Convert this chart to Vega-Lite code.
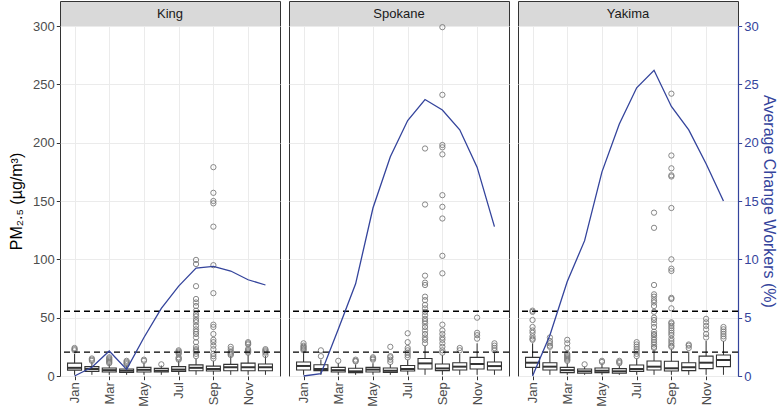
{
  "$schema": "https://vega.github.io/schema/vega-lite/v6.json",
  "padding": {"left": 8, "top": 0, "right": 0, "bottom": 0},
  "background": "white",
  "config": {"font": "Liberation Sans", "view": {"stroke": "#333333", "strokeWidth": 1}},
  "datasets": {
    "boxes": [
      {"county": "King", "month": 1, "lower": 1, "q1": 5, "median": 7, "q3": 11, "upper": 19},
      {"county": "King", "month": 2, "lower": 1, "q1": 4, "median": 6, "q3": 8, "upper": 12},
      {"county": "King", "month": 3, "lower": 1, "q1": 3.4, "median": 5, "q3": 6.9, "upper": 10},
      {"county": "King", "month": 4, "lower": 1, "q1": 3, "median": 4.5, "q3": 6, "upper": 9},
      {"county": "King", "month": 5, "lower": 1, "q1": 3.4, "median": 5.3, "q3": 7.4, "upper": 11},
      {"county": "King", "month": 6, "lower": 1, "q1": 3.4, "median": 4.5, "q3": 6.5, "upper": 9},
      {"county": "King", "month": 7, "lower": 1, "q1": 4, "median": 5.5, "q3": 8, "upper": 13},
      {"county": "King", "month": 8, "lower": 1, "q1": 4.5, "median": 7, "q3": 9.5, "upper": 15},
      {"county": "King", "month": 9, "lower": 1, "q1": 4.3, "median": 6, "q3": 8.5, "upper": 13},
      {"county": "King", "month": 10, "lower": 1, "q1": 4.5, "median": 7.5, "q3": 10, "upper": 17},
      {"county": "King", "month": 11, "lower": 1, "q1": 4.5, "median": 7.5, "q3": 11, "upper": 18},
      {"county": "King", "month": 12, "lower": 1, "q1": 4.5, "median": 7.5, "q3": 10.3, "upper": 17},
      {"county": "Spokane", "month": 1, "lower": 1, "q1": 5.1, "median": 8.6, "q3": 12, "upper": 20},
      {"county": "Spokane", "month": 2, "lower": 1, "q1": 4.6, "median": 6, "q3": 9.7, "upper": 14},
      {"county": "Spokane", "month": 3, "lower": 1, "q1": 3.4, "median": 5, "q3": 7.4, "upper": 11},
      {"county": "Spokane", "month": 4, "lower": 1, "q1": 2.9, "median": 4, "q3": 6.6, "upper": 10},
      {"county": "Spokane", "month": 5, "lower": 1, "q1": 3.4, "median": 5.5, "q3": 7.4, "upper": 11},
      {"county": "Spokane", "month": 6, "lower": 1, "q1": 3.1, "median": 4.5, "q3": 6.9, "upper": 10},
      {"county": "Spokane", "month": 7, "lower": 1, "q1": 4.3, "median": 6, "q3": 9, "upper": 14},
      {"county": "Spokane", "month": 8, "lower": 1, "q1": 6, "median": 10.8, "q3": 15, "upper": 26},
      {"county": "Spokane", "month": 9, "lower": 1, "q1": 4.6, "median": 6.5, "q3": 10.3, "upper": 18},
      {"county": "Spokane", "month": 10, "lower": 1, "q1": 5.1, "median": 8, "q3": 11.4, "upper": 19},
      {"county": "Spokane", "month": 11, "lower": 1, "q1": 6, "median": 10.3, "q3": 16, "upper": 28},
      {"county": "Spokane", "month": 12, "lower": 1, "q1": 5.1, "median": 8.5, "q3": 12, "upper": 20},
      {"county": "Yakima", "month": 1, "lower": 1, "q1": 7.4, "median": 11.4, "q3": 16, "upper": 28},
      {"county": "Yakima", "month": 2, "lower": 1, "q1": 5.1, "median": 8, "q3": 11.4, "upper": 22},
      {"county": "Yakima", "month": 3, "lower": 1, "q1": 2.9, "median": 5, "q3": 7.4, "upper": 11},
      {"county": "Yakima", "month": 4, "lower": 1, "q1": 2.3, "median": 4, "q3": 6, "upper": 8},
      {"county": "Yakima", "month": 5, "lower": 1, "q1": 2.9, "median": 4.5, "q3": 6.9, "upper": 10},
      {"county": "Yakima", "month": 6, "lower": 1, "q1": 2.3, "median": 4, "q3": 6.3, "upper": 9},
      {"county": "Yakima", "month": 7, "lower": 1, "q1": 4, "median": 6, "q3": 9.4, "upper": 15},
      {"county": "Yakima", "month": 8, "lower": 1, "q1": 5.1, "median": 8, "q3": 12.9, "upper": 22},
      {"county": "Yakima", "month": 9, "lower": 1, "q1": 4.3, "median": 6.6, "q3": 12.6, "upper": 23},
      {"county": "Yakima", "month": 10, "lower": 1, "q1": 4.6, "median": 7.5, "q3": 11.4, "upper": 21},
      {"county": "Yakima", "month": 11, "lower": 1, "q1": 6.3, "median": 11.4, "q3": 17, "upper": 30},
      {"county": "Yakima", "month": 12, "lower": 1, "q1": 8, "median": 13.7, "q3": 18, "upper": 30}
    ],
    "outliers": [
      {"county": "King", "month": 1, "pm25": 22}, {"county": "King", "month": 1, "pm25": 23}, {"county": "King", "month": 1, "pm25": 24},
      {"county": "King", "month": 2, "pm25": 13}, {"county": "King", "month": 2, "pm25": 14}, {"county": "King", "month": 2, "pm25": 15},
      {"county": "King", "month": 3, "pm25": 11}, {"county": "King", "month": 3, "pm25": 12}, {"county": "King", "month": 3, "pm25": 13}, {"county": "King", "month": 3, "pm25": 14}, {"county": "King", "month": 3, "pm25": 15}, {"county": "King", "month": 3, "pm25": 16},
      {"county": "King", "month": 4, "pm25": 10}, {"county": "King", "month": 4, "pm25": 11}, {"county": "King", "month": 4, "pm25": 12}, {"county": "King", "month": 4, "pm25": 13},
      {"county": "King", "month": 5, "pm25": 13}, {"county": "King", "month": 5, "pm25": 14},
      {"county": "King", "month": 6, "pm25": 10},
      {"county": "King", "month": 7, "pm25": 14}, {"county": "King", "month": 7, "pm25": 15}, {"county": "King", "month": 7, "pm25": 16}, {"county": "King", "month": 7, "pm25": 19}, {"county": "King", "month": 7, "pm25": 20}, {"county": "King", "month": 7, "pm25": 21}, {"county": "King", "month": 7, "pm25": 22},
      {"county": "King", "month": 8, "pm25": 17}, {"county": "King", "month": 8, "pm25": 19}, {"county": "King", "month": 8, "pm25": 21}, {"county": "King", "month": 8, "pm25": 22}, {"county": "King", "month": 8, "pm25": 23}, {"county": "King", "month": 8, "pm25": 25}, {"county": "King", "month": 8, "pm25": 29}, {"county": "King", "month": 8, "pm25": 33}, {"county": "King", "month": 8, "pm25": 36}, {"county": "King", "month": 8, "pm25": 38}, {"county": "King", "month": 8, "pm25": 40}, {"county": "King", "month": 8, "pm25": 43}, {"county": "King", "month": 8, "pm25": 46}, {"county": "King", "month": 8, "pm25": 48}, {"county": "King", "month": 8, "pm25": 51}, {"county": "King", "month": 8, "pm25": 53}, {"county": "King", "month": 8, "pm25": 56}, {"county": "King", "month": 8, "pm25": 60}, {"county": "King", "month": 8, "pm25": 63}, {"county": "King", "month": 8, "pm25": 66}, {"county": "King", "month": 8, "pm25": 77}, {"county": "King", "month": 8, "pm25": 96}, {"county": "King", "month": 8, "pm25": 99.5},
      {"county": "King", "month": 9, "pm25": 15}, {"county": "King", "month": 9, "pm25": 17}, {"county": "King", "month": 9, "pm25": 19}, {"county": "King", "month": 9, "pm25": 23}, {"county": "King", "month": 9, "pm25": 26}, {"county": "King", "month": 9, "pm25": 29}, {"county": "King", "month": 9, "pm25": 31}, {"county": "King", "month": 9, "pm25": 36}, {"county": "King", "month": 9, "pm25": 42}, {"county": "King", "month": 9, "pm25": 44}, {"county": "King", "month": 9, "pm25": 71}, {"county": "King", "month": 9, "pm25": 95}, {"county": "King", "month": 9, "pm25": 128}, {"county": "King", "month": 9, "pm25": 148}, {"county": "King", "month": 9, "pm25": 150}, {"county": "King", "month": 9, "pm25": 157}, {"county": "King", "month": 9, "pm25": 179},
      {"county": "King", "month": 10, "pm25": 18}, {"county": "King", "month": 10, "pm25": 19}, {"county": "King", "month": 10, "pm25": 20}, {"county": "King", "month": 10, "pm25": 21}, {"county": "King", "month": 10, "pm25": 23}, {"county": "King", "month": 10, "pm25": 25},
      {"county": "King", "month": 11, "pm25": 20}, {"county": "King", "month": 11, "pm25": 21}, {"county": "King", "month": 11, "pm25": 22}, {"county": "King", "month": 11, "pm25": 23}, {"county": "King", "month": 11, "pm25": 27}, {"county": "King", "month": 11, "pm25": 28}, {"county": "King", "month": 11, "pm25": 29},
      {"county": "King", "month": 12, "pm25": 18}, {"county": "King", "month": 12, "pm25": 20}, {"county": "King", "month": 12, "pm25": 21}, {"county": "King", "month": 12, "pm25": 22}, {"county": "King", "month": 12, "pm25": 23},
      {"county": "Spokane", "month": 1, "pm25": 22}, {"county": "Spokane", "month": 1, "pm25": 23}, {"county": "Spokane", "month": 1, "pm25": 24}, {"county": "Spokane", "month": 1, "pm25": 25}, {"county": "Spokane", "month": 1, "pm25": 26}, {"county": "Spokane", "month": 1, "pm25": 28},
      {"county": "Spokane", "month": 2, "pm25": 17}, {"county": "Spokane", "month": 2, "pm25": 22},
      {"county": "Spokane", "month": 3, "pm25": 13},
      {"county": "Spokane", "month": 4, "pm25": 12.5}, {"county": "Spokane", "month": 4, "pm25": 13}, {"county": "Spokane", "month": 4, "pm25": 14},
      {"county": "Spokane", "month": 5, "pm25": 14}, {"county": "Spokane", "month": 5, "pm25": 15}, {"county": "Spokane", "month": 5, "pm25": 16},
      {"county": "Spokane", "month": 6, "pm25": 12}, {"county": "Spokane", "month": 6, "pm25": 14}, {"county": "Spokane", "month": 6, "pm25": 16}, {"county": "Spokane", "month": 6, "pm25": 17}, {"county": "Spokane", "month": 6, "pm25": 25},
      {"county": "Spokane", "month": 7, "pm25": 16}, {"county": "Spokane", "month": 7, "pm25": 18}, {"county": "Spokane", "month": 7, "pm25": 20}, {"county": "Spokane", "month": 7, "pm25": 22}, {"county": "Spokane", "month": 7, "pm25": 24}, {"county": "Spokane", "month": 7, "pm25": 29}, {"county": "Spokane", "month": 7, "pm25": 36.6},
      {"county": "Spokane", "month": 8, "pm25": 28}, {"county": "Spokane", "month": 8, "pm25": 31}, {"county": "Spokane", "month": 8, "pm25": 33}, {"county": "Spokane", "month": 8, "pm25": 36}, {"county": "Spokane", "month": 8, "pm25": 39}, {"county": "Spokane", "month": 8, "pm25": 42}, {"county": "Spokane", "month": 8, "pm25": 45}, {"county": "Spokane", "month": 8, "pm25": 47}, {"county": "Spokane", "month": 8, "pm25": 49}, {"county": "Spokane", "month": 8, "pm25": 52}, {"county": "Spokane", "month": 8, "pm25": 55}, {"county": "Spokane", "month": 8, "pm25": 58}, {"county": "Spokane", "month": 8, "pm25": 61}, {"county": "Spokane", "month": 8, "pm25": 65}, {"county": "Spokane", "month": 8, "pm25": 68}, {"county": "Spokane", "month": 8, "pm25": 78}, {"county": "Spokane", "month": 8, "pm25": 80}, {"county": "Spokane", "month": 8, "pm25": 86}, {"county": "Spokane", "month": 8, "pm25": 147}, {"county": "Spokane", "month": 8, "pm25": 195},
      {"county": "Spokane", "month": 9, "pm25": 20}, {"county": "Spokane", "month": 9, "pm25": 22}, {"county": "Spokane", "month": 9, "pm25": 25}, {"county": "Spokane", "month": 9, "pm25": 28}, {"county": "Spokane", "month": 9, "pm25": 31}, {"county": "Spokane", "month": 9, "pm25": 33}, {"county": "Spokane", "month": 9, "pm25": 36}, {"county": "Spokane", "month": 9, "pm25": 39}, {"county": "Spokane", "month": 9, "pm25": 44}, {"county": "Spokane", "month": 9, "pm25": 88}, {"county": "Spokane", "month": 9, "pm25": 103}, {"county": "Spokane", "month": 9, "pm25": 135}, {"county": "Spokane", "month": 9, "pm25": 145}, {"county": "Spokane", "month": 9, "pm25": 155}, {"county": "Spokane", "month": 9, "pm25": 190}, {"county": "Spokane", "month": 9, "pm25": 196}, {"county": "Spokane", "month": 9, "pm25": 198}, {"county": "Spokane", "month": 9, "pm25": 241}, {"county": "Spokane", "month": 9, "pm25": 299},
      {"county": "Spokane", "month": 10, "pm25": 22}, {"county": "Spokane", "month": 10, "pm25": 24},
      {"county": "Spokane", "month": 11, "pm25": 32}, {"county": "Spokane", "month": 11, "pm25": 35}, {"county": "Spokane", "month": 11, "pm25": 37}, {"county": "Spokane", "month": 11, "pm25": 50},
      {"county": "Spokane", "month": 12, "pm25": 22}, {"county": "Spokane", "month": 12, "pm25": 24}, {"county": "Spokane", "month": 12, "pm25": 26}, {"county": "Spokane", "month": 12, "pm25": 28},
      {"county": "Yakima", "month": 1, "pm25": 31}, {"county": "Yakima", "month": 1, "pm25": 32}, {"county": "Yakima", "month": 1, "pm25": 34}, {"county": "Yakima", "month": 1, "pm25": 37}, {"county": "Yakima", "month": 1, "pm25": 39}, {"county": "Yakima", "month": 1, "pm25": 42}, {"county": "Yakima", "month": 1, "pm25": 48}, {"county": "Yakima", "month": 1, "pm25": 55}, {"county": "Yakima", "month": 1, "pm25": 56},
      {"county": "Yakima", "month": 2, "pm25": 25}, {"county": "Yakima", "month": 2, "pm25": 26}, {"county": "Yakima", "month": 2, "pm25": 28}, {"county": "Yakima", "month": 2, "pm25": 30}, {"county": "Yakima", "month": 2, "pm25": 33},
      {"county": "Yakima", "month": 3, "pm25": 13}, {"county": "Yakima", "month": 3, "pm25": 14}, {"county": "Yakima", "month": 3, "pm25": 15}, {"county": "Yakima", "month": 3, "pm25": 16}, {"county": "Yakima", "month": 3, "pm25": 17}, {"county": "Yakima", "month": 3, "pm25": 18}, {"county": "Yakima", "month": 3, "pm25": 19}, {"county": "Yakima", "month": 3, "pm25": 24}, {"county": "Yakima", "month": 3, "pm25": 28}, {"county": "Yakima", "month": 3, "pm25": 31},
      {"county": "Yakima", "month": 4, "pm25": 10},
      {"county": "Yakima", "month": 5, "pm25": 12}, {"county": "Yakima", "month": 5, "pm25": 13},
      {"county": "Yakima", "month": 6, "pm25": 11}, {"county": "Yakima", "month": 6, "pm25": 12}, {"county": "Yakima", "month": 6, "pm25": 13},
      {"county": "Yakima", "month": 7, "pm25": 17}, {"county": "Yakima", "month": 7, "pm25": 19}, {"county": "Yakima", "month": 7, "pm25": 21}, {"county": "Yakima", "month": 7, "pm25": 23}, {"county": "Yakima", "month": 7, "pm25": 25}, {"county": "Yakima", "month": 7, "pm25": 27}, {"county": "Yakima", "month": 7, "pm25": 29},
      {"county": "Yakima", "month": 8, "pm25": 24}, {"county": "Yakima", "month": 8, "pm25": 25}, {"county": "Yakima", "month": 8, "pm25": 27}, {"county": "Yakima", "month": 8, "pm25": 29}, {"county": "Yakima", "month": 8, "pm25": 31}, {"county": "Yakima", "month": 8, "pm25": 33}, {"county": "Yakima", "month": 8, "pm25": 35}, {"county": "Yakima", "month": 8, "pm25": 36}, {"county": "Yakima", "month": 8, "pm25": 38}, {"county": "Yakima", "month": 8, "pm25": 42}, {"county": "Yakima", "month": 8, "pm25": 45}, {"county": "Yakima", "month": 8, "pm25": 48}, {"county": "Yakima", "month": 8, "pm25": 50}, {"county": "Yakima", "month": 8, "pm25": 55}, {"county": "Yakima", "month": 8, "pm25": 60}, {"county": "Yakima", "month": 8, "pm25": 63}, {"county": "Yakima", "month": 8, "pm25": 65}, {"county": "Yakima", "month": 8, "pm25": 68}, {"county": "Yakima", "month": 8, "pm25": 70}, {"county": "Yakima", "month": 8, "pm25": 78}, {"county": "Yakima", "month": 8, "pm25": 127}, {"county": "Yakima", "month": 8, "pm25": 140},
      {"county": "Yakima", "month": 9, "pm25": 25}, {"county": "Yakima", "month": 9, "pm25": 26}, {"county": "Yakima", "month": 9, "pm25": 28}, {"county": "Yakima", "month": 9, "pm25": 30}, {"county": "Yakima", "month": 9, "pm25": 32}, {"county": "Yakima", "month": 9, "pm25": 35}, {"county": "Yakima", "month": 9, "pm25": 37}, {"county": "Yakima", "month": 9, "pm25": 39}, {"county": "Yakima", "month": 9, "pm25": 41}, {"county": "Yakima", "month": 9, "pm25": 43}, {"county": "Yakima", "month": 9, "pm25": 45}, {"county": "Yakima", "month": 9, "pm25": 46}, {"county": "Yakima", "month": 9, "pm25": 58}, {"county": "Yakima", "month": 9, "pm25": 66}, {"county": "Yakima", "month": 9, "pm25": 67}, {"county": "Yakima", "month": 9, "pm25": 90}, {"county": "Yakima", "month": 9, "pm25": 92}, {"county": "Yakima", "month": 9, "pm25": 100}, {"county": "Yakima", "month": 9, "pm25": 144}, {"county": "Yakima", "month": 9, "pm25": 171}, {"county": "Yakima", "month": 9, "pm25": 172}, {"county": "Yakima", "month": 9, "pm25": 178}, {"county": "Yakima", "month": 9, "pm25": 189}, {"county": "Yakima", "month": 9, "pm25": 242},
      {"county": "Yakima", "month": 10, "pm25": 24}, {"county": "Yakima", "month": 10, "pm25": 26}, {"county": "Yakima", "month": 10, "pm25": 27},
      {"county": "Yakima", "month": 11, "pm25": 33}, {"county": "Yakima", "month": 11, "pm25": 36}, {"county": "Yakima", "month": 11, "pm25": 40}, {"county": "Yakima", "month": 11, "pm25": 43}, {"county": "Yakima", "month": 11, "pm25": 46}, {"county": "Yakima", "month": 11, "pm25": 49},
      {"county": "Yakima", "month": 12, "pm25": 32}, {"county": "Yakima", "month": 12, "pm25": 34}, {"county": "Yakima", "month": 12, "pm25": 36}, {"county": "Yakima", "month": 12, "pm25": 38}, {"county": "Yakima", "month": 12, "pm25": 40}, {"county": "Yakima", "month": 12, "pm25": 42}
    ],
    "workers": [
      {"county": "King", "month": 1, "pct": 0}, {"county": "King", "month": 2, "pct": 0.75}, {"county": "King", "month": 3, "pct": 2.14}, {"county": "King", "month": 4, "pct": 0.57}, {"county": "King", "month": 5, "pct": 3.3}, {"county": "King", "month": 6, "pct": 5.8}, {"county": "King", "month": 7, "pct": 7.7}, {"county": "King", "month": 8, "pct": 9.25}, {"county": "King", "month": 9, "pct": 9.4}, {"county": "King", "month": 10, "pct": 9.0}, {"county": "King", "month": 11, "pct": 8.25}, {"county": "King", "month": 12, "pct": 7.8},
      {"county": "Spokane", "month": 1, "pct": 0}, {"county": "Spokane", "month": 2, "pct": 0.2}, {"county": "Spokane", "month": 3, "pct": 4.0}, {"county": "Spokane", "month": 4, "pct": 7.9}, {"county": "Spokane", "month": 5, "pct": 14.4}, {"county": "Spokane", "month": 6, "pct": 18.8}, {"county": "Spokane", "month": 7, "pct": 21.9}, {"county": "Spokane", "month": 8, "pct": 23.7}, {"county": "Spokane", "month": 9, "pct": 22.8}, {"county": "Spokane", "month": 10, "pct": 21.1}, {"county": "Spokane", "month": 11, "pct": 17.9}, {"county": "Spokane", "month": 12, "pct": 12.8},
      {"county": "Yakima", "month": 1, "pct": 0}, {"county": "Yakima", "month": 2, "pct": 3.5}, {"county": "Yakima", "month": 3, "pct": 8.1}, {"county": "Yakima", "month": 4, "pct": 11.6}, {"county": "Yakima", "month": 5, "pct": 17.5}, {"county": "Yakima", "month": 6, "pct": 21.6}, {"county": "Yakima", "month": 7, "pct": 24.7}, {"county": "Yakima", "month": 8, "pct": 26.2}, {"county": "Yakima", "month": 9, "pct": 23.1}, {"county": "Yakima", "month": 10, "pct": 21.1}, {"county": "Yakima", "month": 11, "pct": 18.2}, {"county": "Yakima", "month": 12, "pct": 15.0}
    ],
    "thresholds": [{"value": 20.5}, {"value": 55.5}]
  },
  "spacing": 5,
  "hconcat": [
    {
      "spacing": 0, "bounds": "flush",
      "vconcat": [
        {"data": {"values": [{"county": "King"}]}, "width": 220, "height": 25,
         "view": {"fill": "#D9D9D9", "stroke": "#333333", "strokeWidth": 1},
         "mark": {"type": "text", "fontSize": 13, "color": "#1A1A1A"},
         "encoding": {"text": {"field": "county", "type": "nominal"}}},
        {"width": 220, "height": 350,
         "resolve": {"scale": {"y": "independent"}},
         "layer": [
          {"layer": [
            {"data": {"name": "boxes"}, "transform": [{"filter": "datum.county === 'King'"}],
             "mark": {"type": "rule", "color": "#333333", "strokeWidth": 1},
             "encoding": {
               "x": {"field": "month", "type": "quantitative", "scale": {"domain": [0.45, 12.55], "nice": false, "zero": false},
                     "axis": {"title": null, "values": [1,2,3,4,5,6,7,8,9,10,11,12], "labelExpr": "datum.value % 2 === 1 ? ['Jan','Feb','Mar','Apr','May','Jun','Jul','Aug','Sep','Oct','Nov','Dec'][datum.value - 1] : ''", "labelAngle": -90, "labelAlign": "right", "labelBaseline": "middle", "labelFontSize": 13, "labelColor": "#4D4D4D", "labelPadding": 2, "labelFlush": false, "labelOverlap": false, "tickColor": "#333333", "tickSize": 3.7, "domain": false, "grid": true, "gridColor": "#EBEBEB", "gridWidth": 1}},
               "y": {"field": "lower", "type": "quantitative", "scale": {"domain": [0, 300], "nice": false, "zero": false},
                     "axis": {"title": "PM₂.₅ (µg/m³)", "titleFontSize": 16, "titleFontWeight": "normal", "titleColor": "#000000", "titlePadding": 8, "values": [0,25,50,75,100,125,150,175,200,225,250,275,300], "labelExpr": "datum.value % 50 === 0 ? datum.label : ''", "labelFontSize": 13, "labelColor": "#4D4D4D", "labelPadding": 2, "labelFlush": false, "tickColor": "#333333", "tickSize": 3.7, "tickOpacity": {"condition": {"test": "datum.value % 50 !== 0", "value": 0}, "value": 1}, "domain": false, "grid": true, "gridColor": "#EBEBEB", "gridWidth": {"condition": {"test": "datum.value % 50 !== 0", "value": 0.5}, "value": 1}}},
               "y2": {"field": "upper"}
             }},
            {"data": {"name": "boxes"}, "transform": [{"filter": "datum.county === 'King'"}],
             "mark": {"type": "bar", "size": 14, "fill": "white", "stroke": "#333333", "strokeWidth": 1.1},
             "encoding": {"x": {"field": "month", "type": "quantitative", "title": null}, "y": {"field": "q1", "type": "quantitative"}, "y2": {"field": "q3"}}},
            {"data": {"name": "boxes"}, "transform": [{"filter": "datum.county === 'King'"}],
             "mark": {"type": "tick", "orient": "horizontal", "size": 14, "thickness": 2, "color": "#333333", "opacity": 1},
             "encoding": {"x": {"field": "month", "type": "quantitative", "title": null}, "y": {"field": "median", "type": "quantitative"}}},
            {"data": {"name": "outliers"}, "transform": [{"filter": "datum.county === 'King'"}],
             "mark": {"type": "point", "shape": "circle", "filled": false, "color": "#7A7A7A", "size": 28, "strokeWidth": 0.9, "opacity": 1},
             "encoding": {"x": {"field": "month", "type": "quantitative", "title": null}, "y": {"field": "pm25", "type": "quantitative"}}},
            {"data": {"name": "thresholds"},
             "mark": {"type": "rule", "strokeDash": [6, 4], "color": "#000000", "strokeWidth": 1.4},
             "encoding": {"y": {"field": "value", "type": "quantitative"}}}
          ]},
          {"data": {"name": "workers"}, "transform": [{"filter": "datum.county === 'King'"}],
           "mark": {"type": "line", "color": "#34449C", "strokeWidth": 1.3},
           "encoding": {"x": {"field": "month", "type": "quantitative", "title": null}, "y": {"field": "pct", "type": "quantitative", "scale": {"domain": [0, 30], "nice": false, "zero": false}, "axis": null}}}
         ]}
      ]
    },
    {
      "spacing": 0, "bounds": "flush",
      "vconcat": [
        {"data": {"values": [{"county": "Spokane"}]}, "width": 220, "height": 25,
         "view": {"fill": "#D9D9D9", "stroke": "#333333", "strokeWidth": 1},
         "mark": {"type": "text", "fontSize": 13, "color": "#1A1A1A"},
         "encoding": {"text": {"field": "county", "type": "nominal"}}},
        {"width": 220, "height": 350,
         "resolve": {"scale": {"y": "independent"}},
         "layer": [
          {"layer": [
            {"data": {"name": "boxes"}, "transform": [{"filter": "datum.county === 'Spokane'"}],
             "mark": {"type": "rule", "color": "#333333", "strokeWidth": 1},
             "encoding": {
               "x": {"field": "month", "type": "quantitative", "scale": {"domain": [0.45, 12.55], "nice": false, "zero": false},
                     "axis": {"title": null, "values": [1,2,3,4,5,6,7,8,9,10,11,12], "labelExpr": "datum.value % 2 === 1 ? ['Jan','Feb','Mar','Apr','May','Jun','Jul','Aug','Sep','Oct','Nov','Dec'][datum.value - 1] : ''", "labelAngle": -90, "labelAlign": "right", "labelBaseline": "middle", "labelFontSize": 13, "labelColor": "#4D4D4D", "labelPadding": 2, "labelFlush": false, "labelOverlap": false, "tickColor": "#333333", "tickSize": 3.7, "domain": false, "grid": true, "gridColor": "#EBEBEB", "gridWidth": 1}},
               "y": {"field": "lower", "type": "quantitative", "scale": {"domain": [0, 300], "nice": false, "zero": false},
                     "axis": {"title": null, "values": [0,25,50,75,100,125,150,175,200,225,250,275,300], "labels": false, "ticks": false, "domain": false, "grid": true, "gridColor": "#EBEBEB", "gridWidth": {"condition": {"test": "datum.value % 50 !== 0", "value": 0.5}, "value": 1}}},
               "y2": {"field": "upper"}
             }},
            {"data": {"name": "boxes"}, "transform": [{"filter": "datum.county === 'Spokane'"}],
             "mark": {"type": "bar", "size": 14, "fill": "white", "stroke": "#333333", "strokeWidth": 1.1},
             "encoding": {"x": {"field": "month", "type": "quantitative", "title": null}, "y": {"field": "q1", "type": "quantitative"}, "y2": {"field": "q3"}}},
            {"data": {"name": "boxes"}, "transform": [{"filter": "datum.county === 'Spokane'"}],
             "mark": {"type": "tick", "orient": "horizontal", "size": 14, "thickness": 2, "color": "#333333", "opacity": 1},
             "encoding": {"x": {"field": "month", "type": "quantitative", "title": null}, "y": {"field": "median", "type": "quantitative"}}},
            {"data": {"name": "outliers"}, "transform": [{"filter": "datum.county === 'Spokane'"}],
             "mark": {"type": "point", "shape": "circle", "filled": false, "color": "#7A7A7A", "size": 28, "strokeWidth": 0.9, "opacity": 1},
             "encoding": {"x": {"field": "month", "type": "quantitative", "title": null}, "y": {"field": "pm25", "type": "quantitative"}}},
            {"data": {"name": "thresholds"},
             "mark": {"type": "rule", "strokeDash": [6, 4], "color": "#000000", "strokeWidth": 1.4},
             "encoding": {"y": {"field": "value", "type": "quantitative"}}}
          ]},
          {"data": {"name": "workers"}, "transform": [{"filter": "datum.county === 'Spokane'"}],
           "mark": {"type": "line", "color": "#34449C", "strokeWidth": 1.3},
           "encoding": {"x": {"field": "month", "type": "quantitative", "title": null}, "y": {"field": "pct", "type": "quantitative", "scale": {"domain": [0, 30], "nice": false, "zero": false}, "axis": null}}}
         ]}
      ]
    },
    {
      "spacing": 0, "bounds": "flush",
      "vconcat": [
        {"data": {"values": [{"county": "Yakima"}]}, "width": 220, "height": 25,
         "view": {"fill": "#D9D9D9", "stroke": "#333333", "strokeWidth": 1},
         "mark": {"type": "text", "fontSize": 13, "color": "#1A1A1A"},
         "encoding": {"text": {"field": "county", "type": "nominal"}}},
        {"width": 220, "height": 350,
         "resolve": {"scale": {"y": "independent"}},
         "layer": [
          {"layer": [
            {"data": {"name": "boxes"}, "transform": [{"filter": "datum.county === 'Yakima'"}],
             "mark": {"type": "rule", "color": "#333333", "strokeWidth": 1},
             "encoding": {
               "x": {"field": "month", "type": "quantitative", "scale": {"domain": [0.45, 12.55], "nice": false, "zero": false},
                     "axis": {"title": null, "values": [1,2,3,4,5,6,7,8,9,10,11,12], "labelExpr": "datum.value % 2 === 1 ? ['Jan','Feb','Mar','Apr','May','Jun','Jul','Aug','Sep','Oct','Nov','Dec'][datum.value - 1] : ''", "labelAngle": -90, "labelAlign": "right", "labelBaseline": "middle", "labelFontSize": 13, "labelColor": "#4D4D4D", "labelPadding": 2, "labelFlush": false, "labelOverlap": false, "tickColor": "#333333", "tickSize": 3.7, "domain": false, "grid": true, "gridColor": "#EBEBEB", "gridWidth": 1}},
               "y": {"field": "lower", "type": "quantitative", "scale": {"domain": [0, 300], "nice": false, "zero": false},
                     "axis": {"title": null, "values": [0,25,50,75,100,125,150,175,200,225,250,275,300], "labels": false, "ticks": false, "domain": false, "grid": true, "gridColor": "#EBEBEB", "gridWidth": {"condition": {"test": "datum.value % 50 !== 0", "value": 0.5}, "value": 1}}},
               "y2": {"field": "upper"}
             }},
            {"data": {"name": "boxes"}, "transform": [{"filter": "datum.county === 'Yakima'"}],
             "mark": {"type": "bar", "size": 14, "fill": "white", "stroke": "#333333", "strokeWidth": 1.1},
             "encoding": {"x": {"field": "month", "type": "quantitative", "title": null}, "y": {"field": "q1", "type": "quantitative"}, "y2": {"field": "q3"}}},
            {"data": {"name": "boxes"}, "transform": [{"filter": "datum.county === 'Yakima'"}],
             "mark": {"type": "tick", "orient": "horizontal", "size": 14, "thickness": 2, "color": "#333333", "opacity": 1},
             "encoding": {"x": {"field": "month", "type": "quantitative", "title": null}, "y": {"field": "median", "type": "quantitative"}}},
            {"data": {"name": "outliers"}, "transform": [{"filter": "datum.county === 'Yakima'"}],
             "mark": {"type": "point", "shape": "circle", "filled": false, "color": "#7A7A7A", "size": 28, "strokeWidth": 0.9, "opacity": 1},
             "encoding": {"x": {"field": "month", "type": "quantitative", "title": null}, "y": {"field": "pm25", "type": "quantitative"}}},
            {"data": {"name": "thresholds"},
             "mark": {"type": "rule", "strokeDash": [6, 4], "color": "#000000", "strokeWidth": 1.4},
             "encoding": {"y": {"field": "value", "type": "quantitative"}}}
          ]},
          {"data": {"name": "workers"}, "transform": [{"filter": "datum.county === 'Yakima'"}],
           "mark": {"type": "line", "color": "#34449C", "strokeWidth": 1.3},
           "encoding": {"x": {"field": "month", "type": "quantitative", "title": null}, "y": {"field": "pct", "type": "quantitative", "scale": {"domain": [0, 30], "nice": false, "zero": false},
             "axis": {"orient": "right", "title": "Average Change Workers (%)", "titleAngle": 90, "values": [0,5,10,15,20,25,30], "grid": false, "domain": true, "domainColor": "#34449C", "domainWidth": 1.2, "tickColor": "#34449C", "tickSize": 3.7, "labelColor": "#34449C", "labelFontSize": 13, "labelPadding": 2, "labelFlush": false, "titleColor": "#34449C", "titleFontSize": 16, "titleFontWeight": "normal", "titlePadding": 2}}}}
         ]}
      ]
    }
  ]
}
